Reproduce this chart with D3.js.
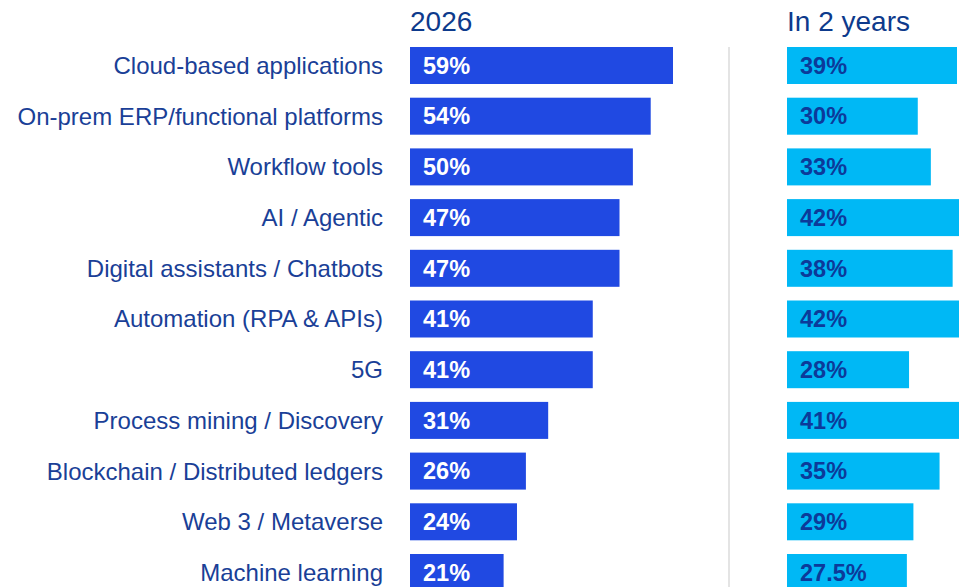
<!DOCTYPE html>
<html><head><meta charset="utf-8">
<script src="https://cdn.jsdelivr.net/npm/d3@7"></script>
<style>body{margin:0;background:#fff}svg{display:block}</style>
</head><body>
<svg id="c" width="959" height="587"></svg>
<script>
const categories = ["Cloud-based applications","On-prem ERP/functional platforms","Workflow tools","AI / Agentic","Digital assistants / Chatbots","Automation (RPA & APIs)","5G","Process mining / Discovery","Blockchain / Distributed ledgers","Web 3 / Metaverse","Machine learning"];
const values2026 = [59,54,50,47,47,41,41,31,26,24,21];
const valuesIn2 = [39,30,33,42,38,42,28,41,35,29,27.5];
const labelsIn2 = ["39%","30%","33%","42%","38%","42%","28%","41%","35%","29%","27.5%"];
const headers = ["2026","In 2 years"];

const svg = d3.select("#c");
const font = "'Liberation Sans', Arial, sans-serif";
const y = d3.scaleBand().domain(categories).range([47, 47 + 50.7*10 + 37]).paddingInner(13.7/50.7).paddingOuter(0);
const xL = d3.scaleLinear().domain([0,59]).range([410,673]);
const xR = d3.scaleLinear().domain([0,39]).range([787,957]);

// divider
svg.append("line").attr("x1",729).attr("x2",729).attr("y1",47).attr("y2",587)
  .attr("stroke","#e4e4e4").attr("stroke-width",2);

// headers
svg.append("text").attr("x",410).attr("y",31).text(headers[0])
  .attr("font-family",font).attr("font-size",28).attr("fill","#0d3a8c");
svg.append("text").attr("x",787).attr("y",31).text(headers[1])
  .attr("font-family",font).attr("font-size",28).attr("fill","#0d3a8c");

// category labels
svg.append("g").selectAll("text").data(categories).join("text")
  .attr("x",383).attr("y",d=>y(d)+y.bandwidth()/2).attr("dy","0.35em")
  .attr("text-anchor","end").attr("font-family",font).attr("font-size",24)
  .attr("fill","#1a3f97").text(d=>d);

// left bars
svg.append("g").selectAll("rect").data(values2026).join("rect")
  .attr("x",xL(0)).attr("y",(d,i)=>y(categories[i]))
  .attr("width",d=>xL(d)-xL(0)).attr("height",y.bandwidth()).attr("fill","#2049e2");
svg.append("g").selectAll("text").data(values2026).join("text")
  .attr("x",xL(0)+13).attr("y",(d,i)=>y(categories[i])+y.bandwidth()/2).attr("dy","0.35em")
  .attr("font-family",font).attr("font-weight","bold").attr("font-size",23.5)
  .attr("fill","#ffffff").text(d=>d+"%");

// right bars
svg.append("g").selectAll("rect").data(valuesIn2).join("rect")
  .attr("x",xR(0)).attr("y",(d,i)=>y(categories[i]))
  .attr("width",d=>xR(d)-xR(0)).attr("height",y.bandwidth()).attr("fill","#00b8f5");
svg.append("g").selectAll("text").data(valuesIn2).join("text")
  .attr("x",xR(0)+13).attr("y",(d,i)=>y(categories[i])+y.bandwidth()/2).attr("dy","0.35em")
  .attr("font-family",font).attr("font-weight","bold").attr("font-size",23.5)
  .attr("fill","#0c3a9a").text((d,i)=>labelsIn2[i]);
</script>
</body></html>
